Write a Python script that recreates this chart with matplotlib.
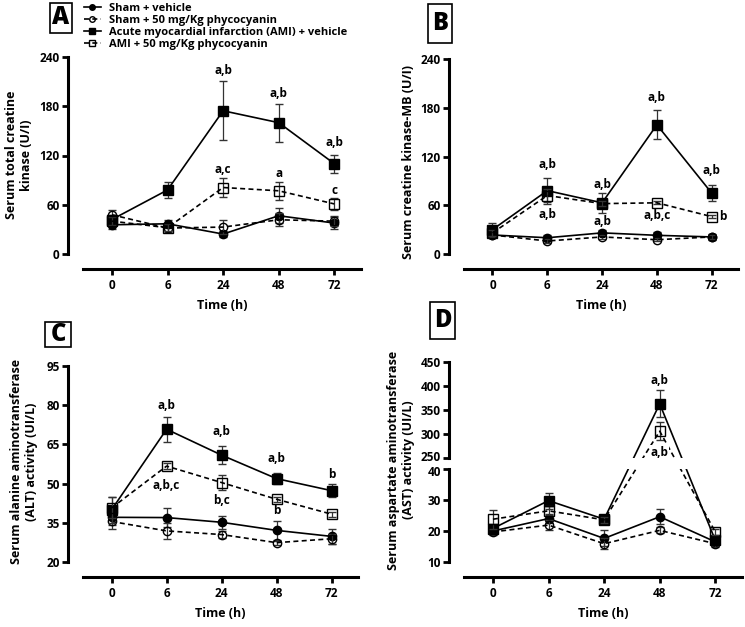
import numpy as np
import matplotlib
matplotlib.use('Agg')
import matplotlib.pyplot as plt
from matplotlib.patches import Rectangle
from matplotlib.lines import Line2D
from matplotlib.transforms import ScaledTranslation, blended_transform_factory

plt.rcParams['font.family'] = ['Open Sans', 'DejaVu Sans']
plt.rcParams['font.weight'] = 'bold'
plt.rcParams['axes.labelweight'] = 'bold'

W, H = 745, 627

times = ['0', '6', '24', '48', '72']
groups = ['Sham + vehicle',
          'Sham + 50 mg/Kg phycocyanin',
          'Acute myocardial infarction (AMI) + vehicle',
          'AMI + 50 mg/Kg phycocyanin']

# order: sham, sham+pc, ami, ami+pc
# A: serum total creatine kinase
ck = [[35.6, 36.8, 24.3, 46.6, 37.7],
      [47.8, 31.6, 32.8, 41.7, 40.0],
      [42.0, 78.0, 174.5, 160.0, 110.0],
      [40.0, 32.0, 81.0, 77.0, 61.0]]
ck_err = [[5, 5, 4, 9, 7],
          [6, 5, 9, 8, 6],
          [5, 10, 36, 23, 11],
          [5, 4, 12, 11, 7]]
ck_lab = [(2, 224, 'a,b'), (3, 196, 'a,b'), (4, 136, 'a,b'),
          (2, 103, 'a,c'), (3, 97.5, 'a'), (4, 77, 'c')]

# B: CK-MB
ckmb = [[23.4, 20.0, 26.0, 23.0, 21.0],
        [23.4, 16.0, 21.0, 17.6, 21.0],
        [30.0, 78.0, 63.0, 159.0, 75.0],
        [26.0, 72.0, 62.0, 63.0, 46.0]]
ckmb_err = [[3, 4, 4, 4, 4],
            [2, 2, 2, 2, 3],
            [8, 16, 12, 18, 10],
            [4, 8, 3, 2, 2]]
ckmb_lab = [(1, 110, 'a,b'), (1, 48.4, 'a,b'), (2, 85, 'a,b'), (2, 40, 'a,b'),
            (3, 193, 'a,b'), (3, 47, 'a,b,c'), (4, 103, 'a,b'), (4.2, 46, 'b')]

# C: ALT
alt = [[37.1, 37.0, 35.2, 32.1, 29.8],
       [35.5, 31.9, 30.5, 27.4, 28.9],
       [40.0, 70.8, 60.9, 51.9, 47.3],
       [40.7, 56.7, 50.4, 44.0, 38.3]]
alt_err = [[3, 3.5, 2.5, 3.5, 3],
           [3, 3, 1.5, 0.8, 2],
           [5, 4.8, 3.4, 2.2, 2.5],
           [4, 1, 3, 1, 1]]
alt_lab = [(1, 80, 'a,b'), (2, 69.8, 'a,b'), (3, 59.6, 'a,b'), (4, 53.6, 'b'),
           (1, 49.1, 'a,b,c'), (2, 43.6, 'b,c'), (3, 39.8, 'b')]

# D: AST
ast = [[20.0, 24.0, 17.6, 24.6, 16.5],
       [19.7, 21.9, 15.9, 20.2, 15.9],
       [20.8, 29.8, 23.8, 363.0, 17.0],
       [23.8, 26.5, 23.6, 306.0, 19.7]]
ast_err = [[1, 1.5, 2.6, 2.4, 1],
           [1, 1.5, 1.8, 1, 1],
           [1, 2.6, 1, 28, 1],
           [3, 1.5, 1, 19, 1]]
ast_lab = [(3, 412, 'a,b'), (3, 262, 'a,b')]

styles = [('o', 'black', '-'),
          ('o', 'none', (0, (3, 2))),
          ('s', 'black', '-'),
          ('s', 'none', (0, (3, 2)))]

fig = plt.figure(figsize=(W / 100, H / 100), dpi=100)
OFF = 10.8  # prism style detached axes, in points


def px(l, t, r, b):
    return [l / W, 1 - b / H, (r - l) / W, (b - t) / H]


def prism(ax, ylim, yticks):
    ax.spines['top'].set_visible(False)
    ax.spines['right'].set_visible(False)
    ax.spines['left'].set_position(('outward', OFF))
    ax.spines['bottom'].set_position(('outward', OFF))
    ax.spines['left'].set_linewidth(2.2)
    ax.spines['bottom'].set_linewidth(2.2)
    ax.set_ylim(ylim)
    ax.set_yticks(yticks)
    ax.set_xlim(-0.52, 4.48)
    ax.tick_params(width=2, length=4, labelsize=8.5, pad=2)
    ax.set_facecolor('none')
    ax.set_xticks(range(5))
    ax.set_xticklabels(times)
    ax.tick_params(axis='x', pad=3)
    ax.set_xlabel('Time (h)', fontsize=9, labelpad=5)


def draw(ax, vals, errs):
    x = np.arange(5)
    for i in range(4):
        m, fc, ls = styles[i]
        eb = ax.errorbar(x, vals[i], yerr=errs[i], color='black', ecolor='#333333',
                         marker=m, mfc=fc, mec='black', mew=1, ms=6 if m == 'o' else 6.5,
                         lw=1.2, ls=ls, capsize=3, elinewidth=0.9, capthick=0.9,
                         zorder=3 + i)
        eb.lines[0].set_clip_on(False)


def notes(ax, labs):
    for x, y, s in labs:
        ax.text(x, y, s, ha='center', va='center', fontsize=8.5, fontweight='bold', zorder=10)


def letter(l, t, r, b, s):
    fig.add_artist(Rectangle((l / W, 1 - b / H), (r - l) / W, (b - t) / H,
                             transform=fig.transFigure, fill=False, lw=1.2, ec='black'))
    fig.text((l + r) / 2 / W, 1 - (t + b) / 2 / H, s, ha='center', va='center',
             fontsize=17, fontweight='heavy')


# panel A
axA = fig.add_axes(px(83, 57, 361, 254))
prism(axA, (0, 240), [0, 60, 120, 180, 240])
draw(axA, ck, ck_err)
notes(axA, ck_lab)

# panel B
axB = fig.add_axes(px(464, 59, 738, 254))
prism(axB, (0, 240), [0, 60, 120, 180, 240])
draw(axB, ckmb, ckmb_err)
notes(axB, ckmb_lab)

# panel C
axC = fig.add_axes(px(83, 366, 358, 562))
prism(axC, (20, 95), [20, 35, 50, 65, 80, 95])
draw(axC, alt, alt_err)
notes(axC, alt_lab)

# panel D, broken y axis: 10-40 below, 250-450 above, small gap between
GAP, K = 3.5, 0.155


def fwd(y):
    y = np.asarray(y, float)
    return np.where(y <= 40, y - 10,
                    np.where(y <= 250, 30 + (y - 40) * GAP / 210, 30 + GAP + (y - 250) * K))


def inv(u):
    u = np.asarray(u, float)
    return np.where(u <= 30, u + 10,
                    np.where(u <= 30 + GAP, 40 + (u - 30) * 210 / GAP, 250 + (u - 30 - GAP) / K))


axD = fig.add_axes(px(464, 362, 742, 562))
axD.set_yscale('function', functions=(fwd, inv))
prism(axD, (10, 450), [10, 20, 30, 40, 250, 300, 350, 400, 450])
axD.yaxis.set_minor_locator(matplotlib.ticker.NullLocator())
axD.set_yticklabels(['10', '20', '30', '40', '250', '300', '350', '400', '450'])
axD.spines['left'].set_bounds(10, 40)
draw(axD, ast, ast_err)
axD.axhspan(40.6, 249, color='white', zorder=8, lw=0)
spx = blended_transform_factory(axD.transAxes + ScaledTranslation(-OFF / 72, 0, fig.dpi_scale_trans),
                                axD.transData)
axD.plot([0, 0], [250, 450], transform=spx, color='black', lw=2.2,
         solid_capstyle='projecting', clip_on=False, zorder=9)
# nudge the two labels at the break apart a little
ylabs = axD.get_yticklabels()
ylabs[3].set_transform(ylabs[3].get_transform() + ScaledTranslation(0, -1.5 / 72, fig.dpi_scale_trans))
ylabs[4].set_transform(ylabs[4].get_transform() + ScaledTranslation(0, 1.5 / 72, fig.dpi_scale_trans))
notes(axD, ast_lab[:1])
axD.text(ast_lab[1][0], ast_lab[1][1], ast_lab[1][2], ha='center', va='center',
         fontsize=8.5, fontweight='bold', zorder=10,
         bbox=dict(facecolor='white', edgecolor='none', pad=0.5))

# y labels
fig.text(19 / W, 1 - 155 / H, 'Serum total creatine\nkinase (U/I)', rotation=90,
         ha='center', va='center', fontsize=9, fontweight='bold', multialignment='center')
fig.text(409 / W, 1 - 162 / H, 'Serum creatine kinase-MB (U/I)', rotation=90,
         ha='center', va='center', fontsize=9, fontweight='bold')
fig.text(24 / W, 1 - 462 / H, 'Serum alanine aminotransferase\n(ALT) activity (UI/L)', rotation=90,
         ha='center', va='center', fontsize=9, fontweight='bold', multialignment='center')
fig.text(401 / W, 1 - 460 / H, 'Serum aspartate aminotransferase\n(AST) activity (UI/L)', rotation=90,
         ha='center', va='center', fontsize=9, fontweight='bold', multialignment='center')

# panel letters
letter(50, 3, 72, 33, 'A')
letter(428, 4, 452, 43, 'B')
letter(45, 322, 71, 347, 'C')
letter(430, 302, 455, 339, 'D')

# legend
handles = [Line2D([], [], color='black', marker=m, mfc=fc, mec='black', ls=ls, lw=1.2, ms=4)
           for m, fc, ls in styles]
fig.legend(handles, groups, loc='upper left', bbox_to_anchor=(78 / W, 1 + 3 / H),
           frameon=False, handlelength=1.6, labelspacing=0.1,
           borderpad=0, handletextpad=0.7, prop={'weight': 'bold', 'size': 8})

fig.savefig('out.png', dpi=100)
